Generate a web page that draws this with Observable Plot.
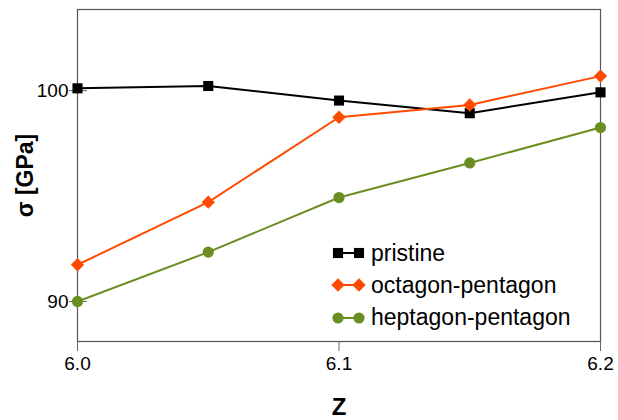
<!DOCTYPE html>
<html><head><meta charset="utf-8">
<script src="https://cdn.jsdelivr.net/npm/d3@7"></script>
<script src="https://cdn.jsdelivr.net/npm/@observablehq/plot@0.6"></script>
<style>
html,body{margin:0;padding:0;background:#fff;}
#wrap{position:relative;width:618px;height:420px;font-family:"Liberation Sans",Arial,sans-serif;}
#legend{position:absolute;left:331px;top:237px;}
.row{display:flex;align-items:center;height:32.3px;font-size:23px;color:#000;}
.row svg{margin-right:4px;}
</style></head>
<body><div id="wrap"><div id="legend"></div></div>
<script>
const zValues = [6.0, 6.05, 6.1, 6.15, 6.2];
const pristine = [100.11, 100.22, 99.53, 98.93, 99.92];
const octagonPentagon = [91.74, 94.71, 98.74, 99.32, 100.69];
const heptagonPentagon = [90.0, 92.34, 94.93, 96.57, 98.25];
const seriesNames = ["pristine", "octagon-pentagon", "heptagon-pentagon"];
const seriesColors = ["#000000", "#ff4a00", "#6b8e23"];
const seriesSymbols = ["square", "diamond2", "circle"];
const seriesR = [5.7, 6.0, 5.6];
const xTicks = [6.0, 6.1, 6.2];
const yTicks = [90, 100];

const allSeries = [pristine, octagonPentagon, heptagonPentagon];
const data = [];
allSeries.forEach((vals, i) => vals.forEach((v, j) => data.push({z: zValues[j], s: v, series: seriesNames[i]})));

const marks = [];
seriesNames.forEach((name, i) => {
  const d = data.filter(r => r.series === name);
  marks.push(Plot.line(d, {x: "z", y: "s", stroke: seriesColors[i], strokeWidth: 2}));
  marks.push(Plot.dot(d, {x: "z", y: "s", fill: seriesColors[i], stroke: "none", symbol: seriesSymbols[i], r: seriesR[i]}));
});

const chart = Plot.plot({
  width: 618, height: 420,
  marginLeft: 77, marginRight: 18, marginTop: 9, marginBottom: 79,
  style: {fontFamily: '"Liberation Sans", Arial, sans-serif', fontSize: "19px", color: "#000", background: "#fff"},
  x: {domain: [6.0, 6.2]},
  y: {domain: [88.1, 103.85]},
  marks: [
    Plot.frame({stroke: "#555", strokeWidth: 1.2}),
    Plot.axisX(xTicks, {anchor: "bottom", tickSize: 10, tickPadding: 5, tickFormat: d3.format(".1f"), label: null, stroke: "#666", fontSize: 19}),
    Plot.axisY(yTicks, {anchor: "left", tickSize: 8, tickPadding: 1, tickFormat: d => String(d), label: null, stroke: "#666", fontSize: 19}),
    Plot.axisY(yTicks, {anchor: "left", tickSize: -10, tickPadding: 0, tickFormat: () => "", label: null, stroke: "#666"}),
    ...marks,
    Plot.text(["σ [GPa]"], {frameAnchor: "left", dx: -52, rotate: -90, textAnchor: "middle", lineAnchor: "middle", text: d => d, fontWeight: "bold", fontSize: 23}),
    Plot.text(["Z"], {frameAnchor: "bottom", dy: 66, textAnchor: "middle", lineAnchor: "middle", text: d => d, fontWeight: "bold", fontSize: 24})
  ]
});
document.getElementById("wrap").prepend(chart);

const legend = document.getElementById("legend");
seriesNames.forEach((name, i) => {
  const row = document.createElement("div");
  row.className = "row";
  const svg = d3.create("svg").attr("width", 36).attr("height", 16);
  svg.append("line").attr("x1", 8).attr("x2", 28).attr("y1", 8).attr("y2", 8).attr("stroke", seriesColors[i]).attr("stroke-width", 2);
  const symMap = {square: d3.symbolSquare, diamond2: d3.symbolDiamond2, circle: d3.symbolCircle};
  [7, 28].forEach(cx => {
    svg.append("path").attr("transform", `translate(${cx},8)`)
      .attr("d", d3.symbol(symMap[seriesSymbols[i]], Math.PI * seriesR[i] * seriesR[i])())
      .attr("fill", seriesColors[i]);
  });
  row.appendChild(svg.node());
  const span = document.createElement("span");
  span.textContent = name;
  row.appendChild(span);
  legend.appendChild(row);
});
</script></body></html>
